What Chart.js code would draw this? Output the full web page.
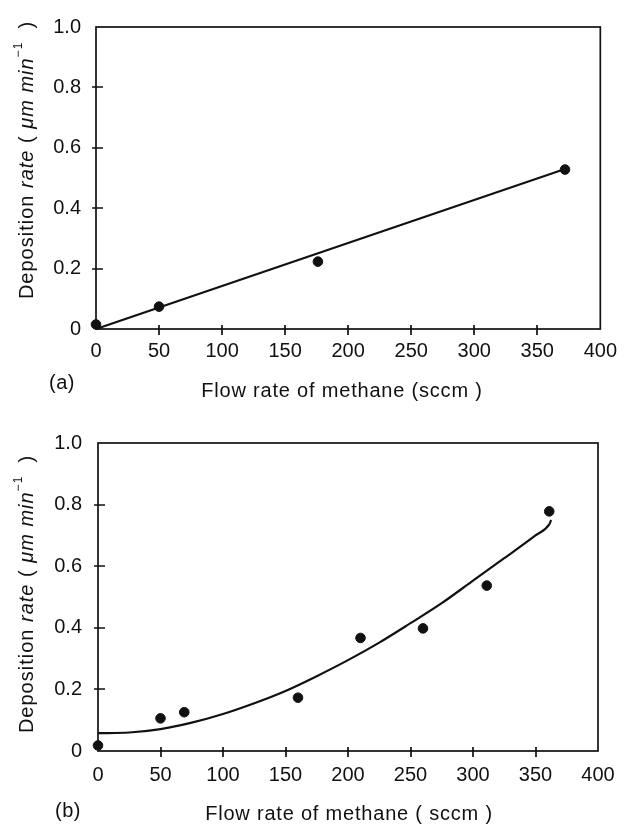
<!DOCTYPE html>
<html>
<head>
<meta charset="utf-8">
<script src="https://cdn.jsdelivr.net/npm/chart.js"></script>
<style>
  html, body { margin: 0; padding: 0; background: #fff; }
  body { width: 627px; height: 825px; position: relative; overflow: hidden; }
  canvas { position: absolute; left: 0; }
  #chartA { top: 0; }
  #chartB { top: 400px; }
</style>
</head>
<body>
<canvas id="chartA" width="627" height="405"></canvas>
<canvas id="chartB" width="627" height="425"></canvas>
<script>
const INK = '#111111';
const FONT = '"Liberation Sans", Arial, Helvetica, sans-serif';

// (a) measured points and linear fit
const flowA = [0, 50, 176, 372];
const rateA = [0.015, 0.074, 0.223, 0.528];
const fitFlowA = [0, 372];
const fitRateA = [0, 0.53];

// (b) measured points and fitted curve
const flowB = [0, 50, 69, 160, 210, 260, 311, 361];
const rateB = [0.018, 0.106, 0.126, 0.173, 0.367, 0.398, 0.537, 0.778];
const fitFlowB = [0, 25, 50, 75, 100, 125, 150, 175, 200, 225, 250, 275, 300, 325, 350, 361, 362.5];
const fitRateB = [0.058, 0.06, 0.071, 0.092, 0.12, 0.155, 0.195, 0.243, 0.295, 0.352, 0.415, 0.48, 0.553, 0.626, 0.7, 0.736, 0.75];

const xTicks = [0, 50, 100, 150, 200, 250, 300, 350, 400];
const yTicks = [0, 0.2, 0.4, 0.6, 0.8, 1.0];

const yTitleParts = [
  { text: 'Deposition ', italic: false },
  { text: 'rate', italic: true },
  { text: ' ( ', italic: false },
  { text: 'μm min', italic: true },
  { text: '−1', sup: true },
  { text: '  )', italic: false }
];

function pts(xs, ys) {
  return xs.map((x, i) => ({ x: x, y: ys[i] }));
}

const frameTicks = {
  id: 'frameTicks',
  beforeDatasetsDraw(chart) {
    const { ctx, chartArea: a, scales: { x, y } } = chart;
    ctx.save();
    ctx.strokeStyle = INK;
    ctx.lineWidth = 1.7;
    ctx.strokeRect(a.left, a.top, a.right - a.left, a.bottom - a.top);
    ctx.beginPath();
    x.ticks.forEach(t => {
      if (t.value <= x.min || t.value >= x.max) return;
      const px = Math.round(x.getPixelForValue(t.value));
      ctx.moveTo(px, a.bottom - 4);
      ctx.lineTo(px, a.bottom + 6);
    });
    y.ticks.forEach(t => {
      if (t.value <= y.min || t.value >= y.max) return;
      const py = Math.round(y.getPixelForValue(t.value));
      ctx.moveTo(a.left - 4, py);
      ctx.lineTo(a.left + 7, py);
    });
    ctx.stroke();
    ctx.restore();
  },
  afterDraw(chart, args, o) {
    const ctx = chart.ctx;
    ctx.save();
    ctx.fillStyle = INK;
    ctx.textBaseline = 'alphabetic';

    // x title
    ctx.font = '20px ' + FONT;
    ctx.letterSpacing = '0.8px';
    ctx.textAlign = 'center';
    ctx.fillText(o.xTitle, o.xTitleX, o.xTitleY);

    // panel letter
    ctx.letterSpacing = '0.5px';
    ctx.font = '20px ' + FONT;
    ctx.textAlign = 'left';
    ctx.fillText(o.panel, o.panelX, o.panelY);

    // y title, rotated, mixed styles
    ctx.translate(o.yTitleX, o.yTitleY);
    ctx.rotate(-Math.PI / 2);
    ctx.letterSpacing = '1px';
    const fontOf = p => p.sup ? '12px ' + FONT : (p.italic ? 'italic ' : '') + '20px ' + FONT;
    let total = 0;
    yTitleParts.forEach(p => { ctx.font = fontOf(p); total += ctx.measureText(p.text).width; });
    let cx = -total / 2;
    ctx.textBaseline = 'middle';
    yTitleParts.forEach(p => {
      ctx.font = fontOf(p);
      ctx.fillText(p.text, cx, p.sup ? -8 : 0);
      cx += ctx.measureText(p.text).width;
    });
    ctx.restore();
  }
};

function makeChart(id, flow, rate, fitFlow, fitRate, box, titles) {
  const tickFont = { family: FONT, size: 20 };
  return new Chart(document.getElementById(id), {
    type: 'scatter',
    data: {
      datasets: [
        {
          label: 'fit',
          data: pts(fitFlow, fitRate),
          showLine: true,
          borderColor: INK,
          borderWidth: 2.2,
          pointRadius: 0,
          cubicInterpolationMode: 'monotone',
          clip: false
        },
        {
          label: 'measured',
          data: pts(flow, rate),
          backgroundColor: INK,
          borderColor: INK,
          pointRadius: 4.8,
          clip: false
        }
      ]
    },
    options: {
      responsive: false,
      animation: false,
      events: [],
      layout: { padding: { left: 0, top: box.top, right: box.right, bottom: 0 } },
      plugins: {
        legend: { display: false },
        tooltip: { enabled: false },
        frameTicks: titles
      },
      scales: {
        x: {
          type: 'linear',
          min: 0,
          max: 400,
          afterFit: s => { s.height = box.xHeight; },
          afterBuildTicks: s => { s.ticks = xTicks.map(v => ({ value: v })); },
          grid: { display: false, drawTicks: false },
          border: { display: false },
          ticks: {
            color: INK,
            font: tickFont,
            padding: box.xPad,
            maxRotation: 0,
            callback: v => String(v)
          }
        },
        y: {
          type: 'linear',
          min: 0,
          max: 1,
          afterFit: s => { s.width = box.yWidth; },
          afterBuildTicks: s => { s.ticks = yTicks.map(v => ({ value: v })); },
          grid: { display: false, drawTicks: false },
          border: { display: false },
          ticks: {
            color: INK,
            font: tickFont,
            padding: box.yPad,
            callback: v => v === 0 ? '0' : v.toFixed(1)
          }
        }
      }
    },
    plugins: [frameTicks]
  });
}

makeChart('chartA', flowA, rateA, fitFlowA, fitRateA,
  { top: 16, right: 24, xHeight: 76, yWidth: 96, xPad: 10, yPad: 15 },
  { xTitle: 'Flow rate of methane (sccm )', xTitleX: 342, xTitleY: 397,
    panel: '(a)', panelX: 49, panelY: 389, yTitleX: 27, yTitleY: 160 });

makeChart('chartB', flowB, rateB, fitFlowB, fitRateB,
  { top: 43, right: 29, xHeight: 74, yWidth: 98, xPad: 12, yPad: 16 },
  { xTitle: 'Flow rate of methane ( sccm )', xTitleX: 349, xTitleY: 420,
    panel: '(b)', panelX: 55, panelY: 417, yTitleX: 27, yTitleY: 194 });
</script>
</body>
</html>
